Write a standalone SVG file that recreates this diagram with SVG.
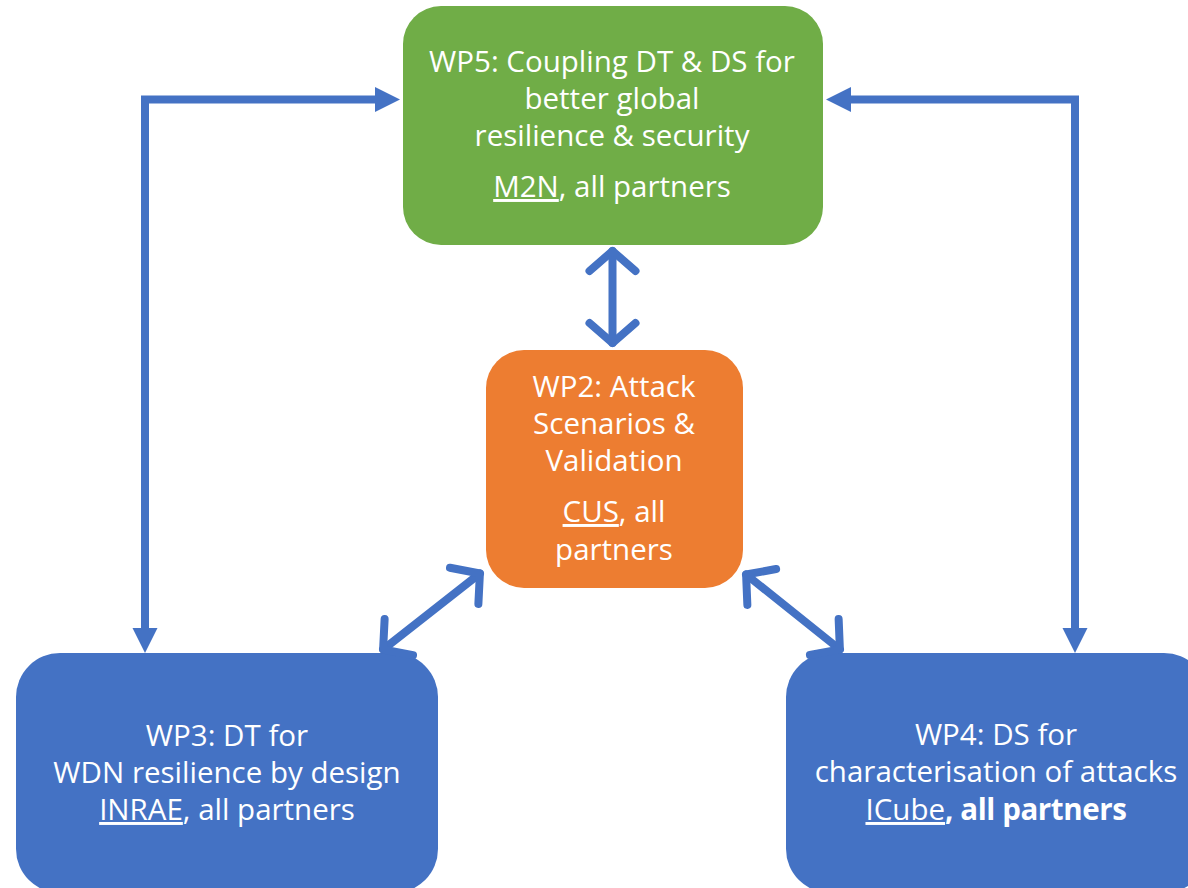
<svg xmlns="http://www.w3.org/2000/svg" width="1188" height="888" viewBox="0 0 1188 888">
  <style>
    .box-green { fill: #70AD47; }
    .box-orange { fill: #ED7D31; }
    .box-blue { fill: #4472C4; }
    .label { font-family: "Open Sans", "Liberation Sans", sans-serif; font-size: 29.5px; fill: #FFFFFF; text-anchor: middle; }
    .u { text-decoration: underline; }
    .b { font-weight: bold; letter-spacing: -0.4px; }
    .link { fill: none; stroke: #4472C4; stroke-width: 8; }
    .elbow { stroke-linejoin: miter; stroke-linecap: butt; marker-start: url(#tri); marker-end: url(#tri); }
    .dual { stroke-linecap: round; marker-start: url(#chev); marker-end: url(#chev); }
  </style>
  <defs>
    <!-- solid triangle head; vertex sits 20px beyond the line end -->
    <marker id="tri" markerUnits="userSpaceOnUse" orient="auto-start-reverse" viewBox="-10 -15 35 30" refX="0" refY="0" markerWidth="35" markerHeight="30" overflow="visible">
      <path d="M-5,-12.5 L20,0 L-5,12.5 Z" fill="#4472C4"/>
    </marker>
    <!-- open chevron head with rounded strokes -->
    <marker id="chev" markerUnits="userSpaceOnUse" orient="auto-start-reverse" viewBox="-25 -28 30 56" refX="0" refY="0" markerWidth="30" markerHeight="56" overflow="visible">
      <path d="M-20,-23 L0,0 L-20,23" fill="none" stroke="#4472C4" stroke-width="8" stroke-linecap="round" stroke-linejoin="round"/>
    </marker>
  </defs>

  <g id="wp5">
    <rect class="box-green" x="403" y="6" width="420" height="239" rx="38" ry="38"/>
    <text class="label"><tspan x="612" y="72">WP5: Coupling DT &amp; DS for</tspan><tspan x="612" y="109">better global</tspan><tspan x="612" y="146">resilience &amp; security</tspan><tspan x="612" y="197"><tspan class="u">M2N</tspan>, all partners</tspan></text>
  </g>

  <g id="wp2">
    <rect class="box-orange" x="486" y="350" width="257" height="238" rx="38" ry="38"/>
    <text class="label"><tspan x="614" y="397">WP2: Attack</tspan><tspan x="614" y="434">Scenarios &amp;</tspan><tspan x="614" y="471">Validation</tspan><tspan x="614" y="522"><tspan class="u">CUS</tspan>, all</tspan><tspan x="614" y="560">partners</tspan></text>
  </g>

  <g id="wp3">
    <rect class="box-blue" x="16" y="653" width="422" height="240" rx="44" ry="44"/>
    <text class="label"><tspan x="227" y="746">WP3: DT for</tspan><tspan x="227" y="783">WDN resilience by design</tspan><tspan x="227" y="820"><tspan class="u">INRAE</tspan>, all partners</tspan></text>
  </g>

  <g id="wp4">
    <rect class="box-blue" x="786" y="653" width="422" height="240" rx="44" ry="44"/>
    <text class="label"><tspan x="996" y="745">WP4: DS for</tspan><tspan x="996" y="782">characterisation of attacks</tspan><tspan x="996" y="820"><tspan class="u">ICube</tspan><tspan class="b">, all partners</tspan></tspan></text>
  </g>

  <g id="connectors">
    <!-- WP3 <-> WP5, routed round the left side -->
    <path class="link elbow" d="M145,633 L145,99.5 L380,99.5"/>
    <!-- WP4 <-> WP5, routed round the right side -->
    <path class="link elbow" d="M1075,633 L1075,99.5 L846,99.5"/>
    <!-- WP5 <-> WP2 -->
    <path class="link dual" d="M612.5,251 L612.5,343"/>
    <!-- WP2 <-> WP3 -->
    <path class="link dual" d="M479.9,573.5 L383.1,649.5"/>
    <!-- WP2 <-> WP4 -->
    <path class="link dual" d="M746.1,574.5 L839.9,649.5"/>
  </g>
</svg>
